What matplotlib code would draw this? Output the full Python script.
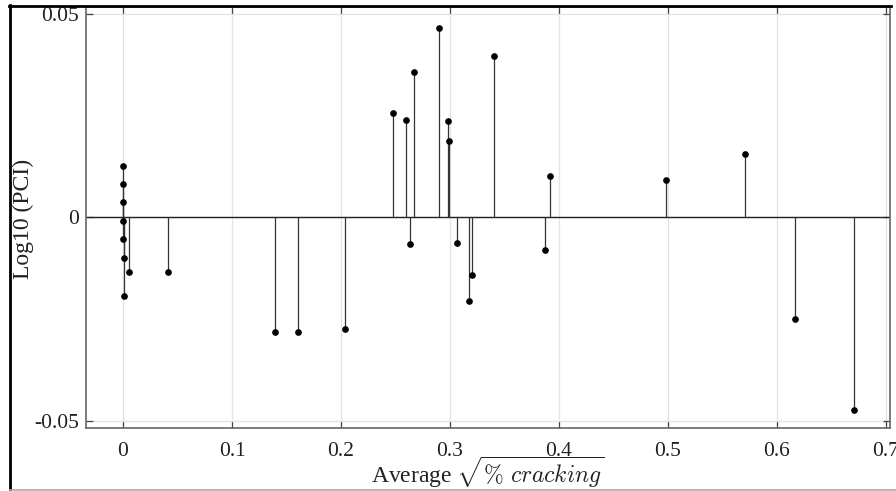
import matplotlib
matplotlib.use("Agg")
import matplotlib.pyplot as plt
from matplotlib.lines import Line2D
import numpy as np

# Data
avg_sqrt_cracking = [0.0, 0.0, 0.0, 0.0, 0.0003, 0.0008, 0.0012, 0.0052, 0.0413,
                     0.1398, 0.1602, 0.2034, 0.2474, 0.2596, 0.2630, 0.2673,
                     0.2902, 0.2979, 0.2991, 0.3064, 0.3171, 0.3202, 0.3401,
                     0.3872, 0.3914, 0.4985, 0.5703, 0.6168, 0.6706]
log10_pci = [0.0125, 0.0081, 0.0037, -0.0009, -0.0054, -0.0099, -0.0193, -0.0135, -0.0135,
             -0.0282, -0.0281, -0.0276, 0.0257, 0.0238, -0.0067, 0.0358,
             0.0466, 0.0236, 0.0187, -0.0063, -0.0205, -0.0141, 0.0397,
             -0.0081, 0.0102, 0.0091, 0.0156, -0.0250, -0.0474]
x_ticks = [0, 0.1, 0.2, 0.3, 0.4, 0.5, 0.6, 0.7]
x_ticklabels = ["0", "0.1", "0.2", "0.3", "0.4", "0.5", "0.6", "0.7"]
y_ticks = [-0.05, 0, 0.05]
y_ticklabels = ["-0.05", "0", "0.05"]

plt.rcParams['font.family'] = ['Liberation Serif', 'DejaVu Serif']
plt.rcParams['mathtext.fontset'] = 'cm'

fig = plt.figure(figsize=(8.96, 4.91), dpi=100)
W, H = 896, 491
ax = fig.add_axes([86 / W, 1 - 428.3 / H, (890 - 86) / W, (428.3 - 7) / H])

ax.grid(True, color='#e3e3e3', linewidth=0.9, zorder=0)
ax.set_axisbelow(True)
ax.axhline(0, color='#222222', linewidth=1.0, zorder=2)

markerline, stemlines, baseline = ax.stem(avg_sqrt_cracking, log10_pci,
                                          linefmt='-', markerfmt='o', basefmt=' ')
stemlines.set_color('#333333')
stemlines.set_linewidth(0.9)
markerline.set_color('black')
markerline.set_markersize(3.8)
markerline.set_zorder(4)

ax.set_xlim(-0.034, 0.7037)
ax.set_ylim(-0.0519, 0.0517)
ax.set_xticks(x_ticks)
ax.set_xticklabels(x_ticklabels)
ax.set_yticks(y_ticks)
ax.set_yticklabels(y_ticklabels)

ax.tick_params(direction='in', length=5, width=0.9, color='#444444',
               top=True, right=True, labelsize=15.5, labelcolor='#222222')
ax.tick_params(axis='x', pad=10)
ax.tick_params(axis='y', pad=5)
for s in ax.spines.values():
    s.set_color('#666666')
    s.set_linewidth(1.2)

ax.set_ylabel('Log10 (PCI)', fontsize=17, color='#222222', va='center', ha='center')
ax.yaxis.set_label_coords((23 - 86) / 804, 0.497)
ax.set_xlabel(r'Average $\sqrt{\%\ \mathit{cracking}}$', fontsize=17,
              color='#222222', va='baseline', ha='center')
ax.xaxis.set_label_coords(0.5, (428.3 - 483) / 421.3)

# screenshot border
fig.add_artist(Line2D([9 / W, 891 / W], [1 - 6 / H, 1 - 6 / H], color='black', linewidth=2.0))
fig.add_artist(Line2D([10 / W, 10 / W], [1 - 5 / H, 1 - 489 / H], color='black', linewidth=2.0))
fig.add_artist(Line2D([10 / W, 1.0], [1 - 489.5 / H, 1 - 489.5 / H], color='#aaaaaa', linewidth=1.2))

fig.savefig('out.png', dpi=100)
